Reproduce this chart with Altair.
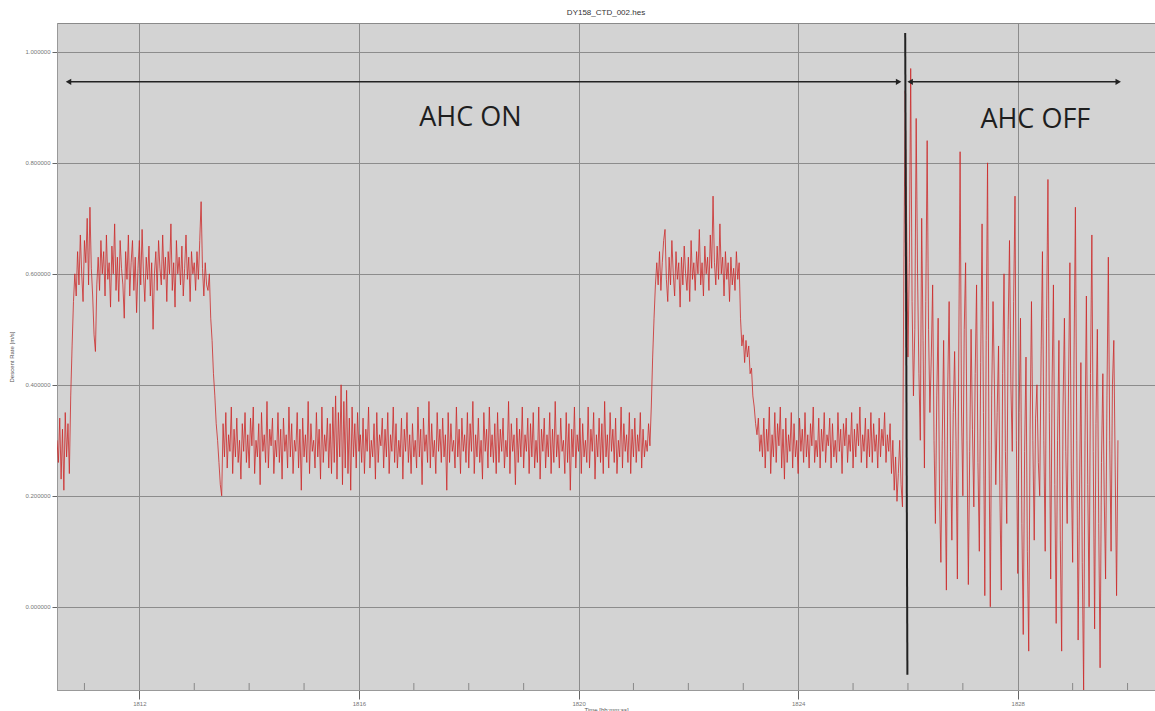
import altair as alt
import pandas as pd

# ---------------- data (descent rate samples) ----------------
t_start = 1810.5      # first sample time
dt = 0.025            # sample interval

seg_start = [0.30, 0.26, 0.34, 0.23, 0.32, 0.21, 0.35, 0.27, 0.33, 0.24, 0.38, 0.47, 0.55, 0.60]

seg_high_1 = [
    0.56, 0.64, 0.58, 0.67, 0.60, 0.55, 0.66, 0.62, 0.70, 0.58, 0.72, 0.61, 0.56, 0.49, 0.46, 0.58, 0.63, 0.57, 0.66, 0.60,
    0.64, 0.56, 0.67, 0.59, 0.62, 0.54, 0.65, 0.60, 0.69, 0.57, 0.63, 0.55, 0.66, 0.61, 0.58, 0.52, 0.64, 0.59, 0.67, 0.56,
    0.62, 0.66, 0.57, 0.63, 0.53, 0.61, 0.66, 0.58, 0.68, 0.60, 0.55, 0.63, 0.59, 0.65, 0.56, 0.62, 0.50, 0.60, 0.64, 0.57,
    0.66, 0.61, 0.58, 0.67, 0.59, 0.63, 0.55, 0.64, 0.60, 0.69, 0.57, 0.62, 0.54, 0.66, 0.60, 0.63, 0.58, 0.65, 0.56, 0.61,
    0.67, 0.59, 0.63, 0.55, 0.64, 0.60, 0.62, 0.57, 0.64, 0.59, 0.66, 0.73, 0.61, 0.56, 0.62, 0.58]

seg_drop_1 = [0.57, 0.60, 0.52, 0.48, 0.42, 0.38, 0.33, 0.30, 0.26, 0.22, 0.20]

seg_low_1 = [
    0.33, 0.27, 0.35, 0.25, 0.31, 0.28, 0.36, 0.24, 0.32, 0.27, 0.34, 0.26, 0.30, 0.23, 0.33, 0.28, 0.35, 0.26, 0.31, 0.25,
    0.34, 0.29, 0.36, 0.24, 0.30, 0.27, 0.33, 0.22, 0.35, 0.28, 0.31, 0.26, 0.37, 0.25, 0.32, 0.29, 0.34, 0.24, 0.30, 0.27,
    0.35, 0.26, 0.32, 0.23, 0.34, 0.28, 0.31, 0.25, 0.36, 0.27, 0.33, 0.24, 0.30, 0.28, 0.35, 0.25, 0.32, 0.21, 0.34, 0.27,
    0.31, 0.26, 0.37, 0.24, 0.33, 0.28, 0.30, 0.25, 0.35, 0.27, 0.32, 0.23, 0.36, 0.26, 0.31, 0.28, 0.34, 0.25, 0.33, 0.24,
    0.36, 0.26, 0.38, 0.23, 0.35, 0.27, 0.40, 0.22, 0.37, 0.25, 0.39, 0.24, 0.34, 0.21, 0.36, 0.27, 0.33, 0.25, 0.35, 0.28,
    0.31, 0.26, 0.34, 0.24, 0.32, 0.28, 0.36, 0.25, 0.30, 0.27, 0.33, 0.23, 0.35, 0.26, 0.31, 0.29, 0.34, 0.25, 0.32, 0.27,
    0.35, 0.24, 0.31, 0.28, 0.36, 0.26, 0.33, 0.25, 0.30, 0.27, 0.34, 0.23, 0.32, 0.28, 0.35, 0.26, 0.31, 0.24, 0.33, 0.27,
    0.30, 0.25, 0.36, 0.27, 0.32, 0.22, 0.34, 0.28, 0.31, 0.26, 0.37, 0.25, 0.33, 0.27, 0.30, 0.24, 0.35, 0.28, 0.32, 0.26,
    0.34, 0.27, 0.31, 0.21, 0.35, 0.26, 0.33, 0.28, 0.30, 0.25, 0.36, 0.27, 0.32, 0.24, 0.34, 0.28, 0.31, 0.26, 0.35, 0.25,
    0.33, 0.28, 0.37, 0.24, 0.31, 0.27, 0.34, 0.26, 0.30, 0.23, 0.35, 0.28, 0.32, 0.25, 0.36, 0.27, 0.31, 0.26, 0.33, 0.24,
    0.35, 0.26, 0.32, 0.28, 0.34, 0.25, 0.30, 0.27, 0.37, 0.24, 0.33, 0.28, 0.31, 0.22, 0.34, 0.26, 0.32, 0.27, 0.36, 0.25,
    0.31, 0.28, 0.34, 0.24, 0.33, 0.27, 0.35, 0.25, 0.30, 0.26, 0.36, 0.23, 0.32, 0.28, 0.34, 0.25, 0.31, 0.27, 0.35, 0.24,
    0.32, 0.26, 0.37, 0.27, 0.31, 0.25, 0.34, 0.28, 0.30, 0.24, 0.35, 0.26, 0.33, 0.21, 0.32, 0.27, 0.36, 0.25, 0.31, 0.28,
    0.34, 0.24, 0.33, 0.27, 0.30, 0.26, 0.36, 0.25, 0.32, 0.28, 0.35, 0.23, 0.31, 0.27, 0.34, 0.26, 0.33, 0.24, 0.37, 0.27,
    0.31, 0.25, 0.35, 0.28, 0.32, 0.26, 0.34, 0.24, 0.30, 0.27, 0.36, 0.25, 0.33, 0.28, 0.31, 0.26, 0.35, 0.24, 0.32, 0.27,
    0.34, 0.26, 0.31, 0.28, 0.35, 0.25, 0.32, 0.27, 0.30, 0.28, 0.33, 0.29]

seg_rise_2 = [0.36, 0.45, 0.52, 0.58, 0.62]

seg_high_2 = [
    0.58, 0.64, 0.57, 0.62, 0.66, 0.68, 0.59, 0.55, 0.63, 0.58, 0.66, 0.60, 0.56, 0.64, 0.59, 0.62, 0.54, 0.63, 0.58, 0.65,
    0.60, 0.57, 0.63, 0.55, 0.66, 0.59, 0.62, 0.57, 0.64, 0.60, 0.68, 0.58, 0.62, 0.56, 0.65, 0.60, 0.63, 0.57, 0.67, 0.61,
    0.74, 0.62, 0.58, 0.65, 0.59, 0.69, 0.60, 0.63, 0.56, 0.64, 0.59, 0.62, 0.55, 0.63, 0.58, 0.61, 0.57, 0.64, 0.59, 0.62]

seg_drop_2 = [0.52, 0.47, 0.49, 0.44, 0.48, 0.45, 0.47, 0.42, 0.43, 0.38, 0.36, 0.33, 0.31, 0.34, 0.28, 0.31]

seg_low_2 = [
    0.27, 0.34, 0.25, 0.32, 0.28, 0.36, 0.24, 0.31, 0.27, 0.35, 0.26, 0.33, 0.29, 0.36, 0.25, 0.32, 0.23, 0.34, 0.26, 0.31,
    0.28, 0.35, 0.25, 0.33, 0.27, 0.30, 0.24, 0.34, 0.28, 0.32, 0.26, 0.35, 0.27, 0.31, 0.25, 0.33, 0.29, 0.36, 0.26, 0.30,
    0.27, 0.34, 0.25, 0.32, 0.28, 0.35, 0.26, 0.31, 0.29, 0.34, 0.25, 0.33, 0.27, 0.30, 0.26, 0.35, 0.28, 0.32, 0.24, 0.33,
    0.29, 0.34, 0.26, 0.31, 0.28, 0.35, 0.25, 0.32, 0.27, 0.33, 0.29, 0.36, 0.26, 0.31, 0.28, 0.34, 0.25, 0.32, 0.27, 0.35,
    0.26, 0.33, 0.28, 0.31, 0.25, 0.34, 0.27, 0.32, 0.29, 0.35, 0.26, 0.31, 0.28, 0.33, 0.24, 0.30, 0.21, 0.27, 0.19, 0.24]

# AHC OFF: samples on the half-steps (a) and in between (b)
seg_off_a = [0.30, 0.18, 0.93, 0.45, 0.97, 0.38, 0.88, 0.42, 0.70, 0.25,
             0.84, 0.35, 0.58, 0.15, 0.52, 0.08, 0.48, 0.03, 0.55, 0.12,
             0.46, 0.05, 0.82, 0.20, 0.62, 0.04, 0.50, 0.18, 0.58, 0.10,
             0.69, 0.02, 0.80, 0.00, 0.55, 0.22, 0.47, 0.03, 0.60, 0.15,
             0.66, 0.28, 0.74, 0.06, 0.52, -0.05, 0.45, -0.08, 0.55, 0.12,
             0.40, 0.20, 0.64, 0.10, 0.77, 0.05, 0.58, -0.03, 0.48, -0.08,
             0.52, 0.15, 0.62, 0.08, 0.72, -0.06, 0.44, -0.15, 0.56, 0.00,
             0.67, -0.04, 0.50, -0.11, 0.42, 0.05, 0.63, 0.10, 0.48, 0.02]
seg_off_b = [0.22, 0.60, 0.70, 0.62, 0.55, 0.50, 0.60, 0.30, 0.48, 0.55,
             0.50, 0.45, 0.30, 0.38, 0.20, 0.30, 0.25, 0.40, 0.28, 0.35,
             0.30, 0.45, 0.36, 0.50, 0.30, 0.28, 0.32, 0.42, 0.26, 0.44,
             0.35, 0.48, 0.30, 0.38, 0.40, 0.35, 0.20, 0.42, 0.28, 0.50,
             0.40, 0.55, 0.30, 0.35, 0.15, 0.28, 0.10, 0.32, 0.30, 0.34,
             0.26, 0.45, 0.30, 0.52, 0.35, 0.40, 0.22, 0.30, 0.12, 0.36,
             0.28, 0.40, 0.25, 0.45, 0.30, 0.20, 0.08, 0.30, 0.22, 0.42,
             0.28, 0.33, 0.15, 0.26, 0.20, 0.38, 0.30, 0.40, 0.25, 0.30]
seg_off = [v for pair in zip(seg_off_a, seg_off_b) for v in pair]

rate = (seg_start + seg_high_1 + seg_drop_1 + seg_low_1 + seg_rise_2
        + seg_high_2 + seg_drop_2 + seg_low_2 + seg_off)
time = [round(t_start + dt * i, 4) for i in range(len(rate))]

x_ticks = [1812, 1816, 1820, 1824, 1828]
x_minor = [1811, 1813, 1814, 1815, 1817, 1818, 1819, 1821, 1822, 1823,
           1825, 1826, 1827, 1829, 1830]
y_ticks = [0.0, 0.2, 0.4, 0.6, 0.8, 1.0]

# annotations
switch_time = [1825.95, 1825.99]
switch_rate = [1.034, -0.1225]
arrow_on = [1810.71, 1825.83]
arrow_off = [1826.04, 1829.83]
arrow_level = 0.946
labels = ["AHC ON", "AHC OFF"]
label_time = [1818.03, 1828.32]
label_rate = [0.881, 0.877]

df = pd.DataFrame({"time": time, "rate": rate})

xscale = alt.Scale(domain=[1810.5, 1830.5], nice=False, zero=False)
yscale = alt.Scale(domain=[-0.15, 1.052], nice=False, zero=False)

line = alt.Chart(df).mark_line(color="#cc2a2a", strokeWidth=0.8, clip=True).encode(
    x=alt.X("time:Q", scale=xscale,
            axis=alt.Axis(values=x_ticks, format="d", title="Time [hh:mm:ss]",
                          grid=True, tickSize=9, labelPadding=1, titlePadding=0)),
    y=alt.Y("rate:Q", scale=yscale,
            axis=alt.Axis(values=y_ticks, format=".6f", title="Descent Rate [m/s]",
                          grid=True, tickSize=5, labelPadding=2, titlePadding=10)),
)

minor = alt.Chart(pd.DataFrame({"m": x_minor})).mark_rule(color="#888", strokeWidth=1).encode(
    x=alt.X("m:Q", scale=xscale),
    y=alt.value(660), y2=alt.value(667),
)

switch = alt.Chart(pd.DataFrame({"t1": [switch_time[0]], "t2": [switch_time[1]],
                                 "r1": [switch_rate[0]], "r2": [switch_rate[1]]})).mark_rule(
    color="#222222", strokeWidth=2).encode(
    x=alt.X("t1:Q", scale=xscale), x2="t2:Q",
    y=alt.Y("r1:Q", scale=yscale), y2="r2:Q",
)

arrows_df = pd.DataFrame({"a": [arrow_on[0], arrow_off[0]], "b": [arrow_on[1], arrow_off[1]],
                          "r": [arrow_level, arrow_level]})
arrow_lines = alt.Chart(arrows_df).mark_rule(color="#222222", strokeWidth=1.5).encode(
    x=alt.X("a:Q", scale=xscale), x2="b:Q", y=alt.Y("r:Q", scale=yscale),
)
heads_left = alt.Chart(arrows_df).mark_point(shape="triangle-left", filled=True, size=40,
                                             color="#222222", opacity=1).encode(
    x=alt.X("a:Q", scale=xscale), y=alt.Y("r:Q", scale=yscale))
heads_right = alt.Chart(arrows_df).mark_point(shape="triangle-right", filled=True, size=40,
                                              color="#222222", opacity=1).encode(
    x=alt.X("b:Q", scale=xscale), y=alt.Y("r:Q", scale=yscale))

texts = alt.Chart(pd.DataFrame({"label": labels, "t": label_time, "r": label_rate})).mark_text(
    font="Open Sans", fontSize=27, color="#1e1e1e", align="center", baseline="middle").encode(
    x=alt.X("t:Q", scale=xscale), y=alt.Y("r:Q", scale=yscale), text="label:N")

chart = alt.layer(line, minor, switch, arrow_lines, heads_left, heads_right, texts).properties(
    width=1098, height=667,
    title=alt.TitleParams("DY158_CTD_002.hes", fontSize=8, fontWeight="normal",
                          color="#333333", offset=6, font="Liberation Sans"),
    autosize=alt.AutoSizeParams(type="none"),
    padding={"left": 57, "top": 23, "right": 0, "bottom": 21},
    background="white",
).configure_view(
    fill="#d3d3d3", stroke="#8a8a8a", strokeWidth=1,
).configure_axis(
    gridColor="#8c8c8c", gridOpacity=1, gridWidth=1,
    domainColor="#999999", tickColor="#666666",
    labelFont="Liberation Sans", labelFontSize=6, labelColor="#777777",
    titleFont="Liberation Sans", titleFontSize=6, titleFontWeight="normal", titleColor="#555555",
)

chart.save("out.html", embed_options={"renderer": "svg", "actions": False})
